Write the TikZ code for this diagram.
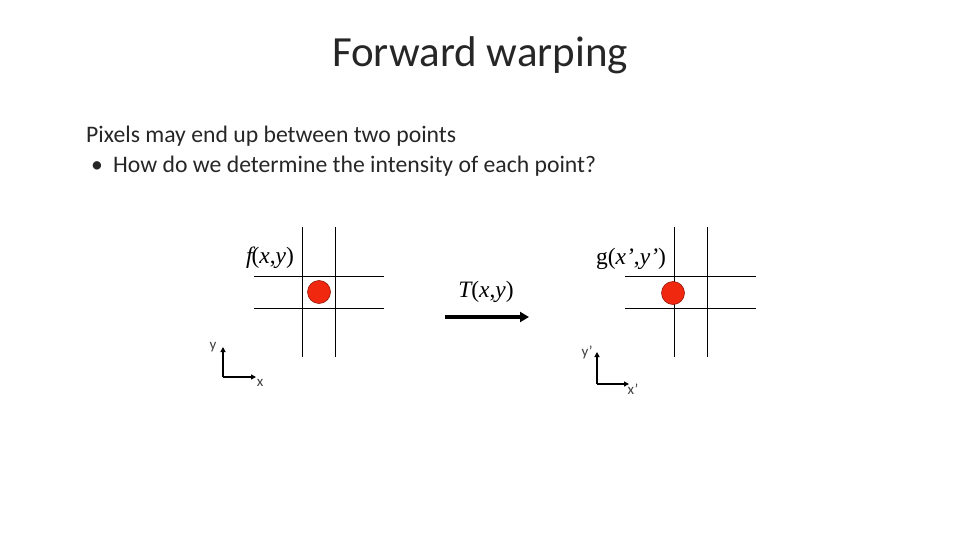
\documentclass[tikz,border=0pt]{standalone}
\usepackage{fontspec}
\setmainfont{Carlito}
\newfontfamily\lblfont{Liberation Serif}
\usepackage{tikz}
\usetikzlibrary{arrows.meta}

\definecolor{dotred}{RGB}{240,40,15}
\definecolor{dotrim}{RGB}{150,25,10}

\begin{document}
\begin{tikzpicture}[
    x=1pt,y=-1pt,
    gridline/.style={black,line width=0.9pt},
    pixel/.style={circle,draw=dotrim,fill=dotred,line width=0.6pt,minimum size=23pt,inner sep=0pt},
    axis/.style={-{Triangle[length=5pt,width=5pt]},line width=1.6pt},
    warp/.style={-{Triangle[length=9pt,width=10pt]},line width=3.2pt},
    body/.style={font=\fontsize{23.7}{28}\selectfont,text=black!85,anchor=base west,inner sep=0pt},
    func/.style={font=\lblfont\fontsize{23.5}{28}\selectfont,inner sep=0pt},
    axlbl/.style={font=\fontsize{15}{18}\selectfont,text=black!75,inner sep=0pt}
]
\useasboundingbox (0,0) rectangle (960,540);

\node[font=\fontsize{43}{52}\selectfont,text=black!85,anchor=base] (title) at (480,67) {Forward warping};
\node[body] (line1) at (86,143) {Pixels may end up between two points};
\node[body] (bul) at (91,172) {\textbullet};
\node[body] (line2) at (113,172) {How do we determine the intensity of each point?};

% source grid
\draw[gridline] (302,227) -- (302,357);
\draw[gridline] (335,227) -- (335,357);
\draw[gridline] (254,276) -- (384,276);
\draw[gridline] (254,308) -- (384,308);
\node[pixel] (src) at (319,292) {};
\node[func] (flbl) at (270,258) {\itshape f\kern-1pt\upshape(\itshape x\upshape,\itshape y\/\upshape)};

\coordinate (o1) at (223,377);
\coordinate (y1) at (223,347);
\coordinate (x1) at (256,377);
\draw[axis] (o1) -- (y1);
\draw[axis] (o1) -- (x1);
\node[axlbl] (ylbl1) at (213,347) {y};
\node[axlbl] (xlbl1) at (260,383) {x};

% warp
\coordinate (wa) at (445,317);
\coordinate (wb) at (529,317);
\draw[warp] (wa) -- (wb);
\node[func] (tlbl) at (486,292) {\itshape T\upshape(\itshape x\upshape,\itshape y\/\upshape)};

% target grid
\draw[gridline] (674,227) -- (674,357);
\draw[gridline] (707,227) -- (707,357);
\draw[gridline] (625,276) -- (756,276);
\draw[gridline] (625,308) -- (756,308);
\node[pixel] (dst) at (673,293) {};
\node[func] (glbl) at (631,259) {g(\itshape x’\upshape,\itshape y’\upshape)};

\coordinate (o2) at (597,384);
\coordinate (y2) at (597,352);
\coordinate (x2) at (629,384);
\draw[axis] (o2) -- (y2);
\draw[axis] (o2) -- (x2);
\node[axlbl] (ylbl2) at (587,352) {y’};
\node[axlbl] (xlbl2) at (633,389) {x’};
\end{tikzpicture}
\end{document}
